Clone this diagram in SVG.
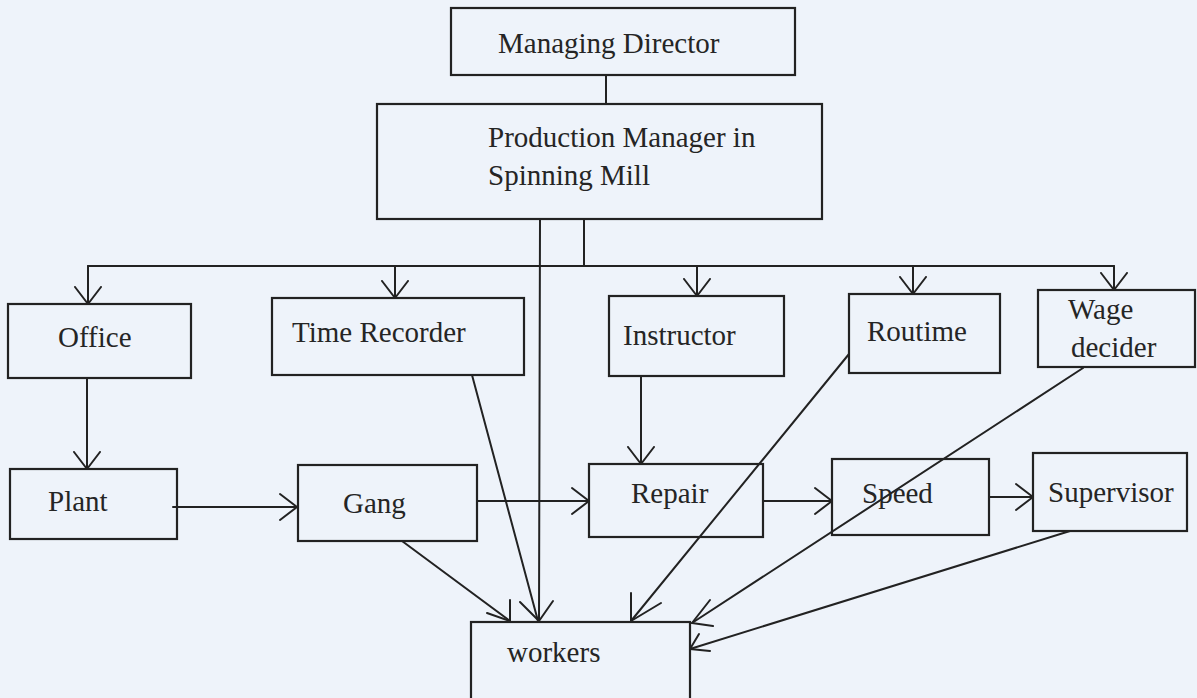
<svg xmlns="http://www.w3.org/2000/svg" width="1197" height="698" viewBox="0 0 1197 698">
  <style>
    .box { fill: none; stroke: #222; stroke-width: 2.2; }
    .lbl { font-family: "Liberation Serif", "Times New Roman", serif; font-size: 29px; fill: #252525; }
    .ln { fill: none; stroke: #222; stroke-width: 2; stroke-linecap: round; stroke-linejoin: round; }
  </style>
  <defs>
    <marker id="vhead" viewBox="-18 -15 20 30" markerWidth="20" markerHeight="30" refX="0" refY="0" orient="auto" markerUnits="userSpaceOnUse">
      <path d="M-17,-13 L0,0 L-17,13" fill="none" stroke="#222" stroke-width="2" stroke-linecap="round" stroke-linejoin="round"/>
    </marker>
  </defs>

  <rect width="1197" height="698" fill="#eef3fa"/>

  <!-- connectors -->
  <g id="connectors">
    <line class="ln" x1="606" y1="75" x2="606" y2="104"/>
    <!-- distribution bus below the production manager -->
    <polyline class="ln" points="584,219 584,266"/>
    <line class="ln" x1="88" y1="266" x2="1114" y2="266"/>
    <line class="ln" x1="88" y1="266" x2="88" y2="304" marker-end="url(#vhead)"/>
    <line class="ln" x1="395" y1="266" x2="395" y2="298" marker-end="url(#vhead)"/>
    <line class="ln" x1="697" y1="266" x2="697" y2="296" marker-end="url(#vhead)"/>
    <line class="ln" x1="913" y1="266" x2="913" y2="294" marker-end="url(#vhead)"/>
    <line class="ln" x1="1114" y1="266" x2="1114" y2="290" marker-end="url(#vhead)"/>

    <!-- chain along the middle row -->
    <line class="ln" x1="87" y1="378" x2="87" y2="469" marker-end="url(#vhead)"/>
    <line class="ln" x1="173" y1="507" x2="297" y2="507" marker-end="url(#vhead)"/>
    <line class="ln" x1="477" y1="501" x2="589" y2="501" marker-end="url(#vhead)"/>
    <line class="ln" x1="763" y1="501" x2="832" y2="501" marker-end="url(#vhead)"/>
    <line class="ln" x1="989" y1="497" x2="1033" y2="497" marker-end="url(#vhead)"/>
    <line class="ln" x1="641" y1="376" x2="641" y2="464" marker-end="url(#vhead)"/>

    <!-- lines converging on workers -->
    <line class="ln" x1="472" y1="375" x2="538" y2="621"/>
    <line class="ln" x1="540" y1="219" x2="539" y2="621"/>
    <line class="ln" x1="402" y1="541" x2="510" y2="621"/>
    <line class="ln" x1="849" y1="354" x2="631" y2="621"/>
    <line class="ln" x1="1083" y1="368" x2="692" y2="623"/>
    <line class="ln" x1="1070" y1="531" x2="690" y2="649"/>

    <!-- arrowheads at workers -->
    <polyline class="ln" points="487,613 510,621 510,600"/>
    <polyline class="ln" points="520,602 539,621 553,601"/>
    <polyline class="ln" points="631,593 631,621 661,603"/>
    <polyline class="ln" points="710,600 692,623 713,626"/>
    <polyline class="ln" points="699,634 690,649 710,651"/>
  </g>

  <g id="managing-director">
    <rect class="box" x="451" y="8" width="344" height="67"/>
    <text class="lbl" x="498" y="53">Managing Director</text>
  </g>

  <g id="production-manager">
    <rect class="box" x="377" y="104" width="445" height="115"/>
    <text class="lbl" x="488" y="147">Production Manager in</text>
    <text class="lbl" x="488" y="185">Spinning Mill</text>
  </g>

  <g id="office">
    <rect class="box" x="8" y="304" width="183" height="74"/>
    <text class="lbl" x="58" y="347">Office</text>
  </g>

  <g id="time-recorder">
    <rect class="box" x="272" y="298" width="252" height="77"/>
    <text class="lbl" x="292" y="342">Time Recorder</text>
  </g>

  <g id="instructor">
    <rect class="box" x="609" y="296" width="175" height="80"/>
    <text class="lbl" x="623" y="345">Instructor</text>
  </g>

  <g id="routime">
    <rect class="box" x="849" y="294" width="151" height="79"/>
    <text class="lbl" x="867" y="341">Routime</text>
  </g>

  <g id="wage-decider">
    <rect class="box" x="1038" y="290" width="157" height="77"/>
    <text class="lbl" x="1068" y="319">Wage</text>
    <text class="lbl" x="1071" y="357">decider</text>
  </g>

  <g id="plant">
    <rect class="box" x="10" y="469" width="167" height="70"/>
    <text class="lbl" x="48" y="511">Plant</text>
  </g>

  <g id="gang">
    <rect class="box" x="298" y="465" width="179" height="76"/>
    <text class="lbl" x="343" y="513">Gang</text>
  </g>

  <g id="repair">
    <rect class="box" x="589" y="464" width="174" height="73"/>
    <text class="lbl" x="631" y="503">Repair</text>
  </g>

  <g id="speed">
    <rect class="box" x="832" y="459" width="157" height="76"/>
    <text class="lbl" x="862" y="503">Speed</text>
  </g>

  <g id="supervisor">
    <rect class="box" x="1033" y="453" width="154" height="78"/>
    <text class="lbl" x="1048" y="502">Supervisor</text>
  </g>

  <g id="workers">
    <rect class="box" x="471" y="622" width="219" height="90"/>
    <text class="lbl" x="507" y="662">workers</text>
  </g>
</svg>
